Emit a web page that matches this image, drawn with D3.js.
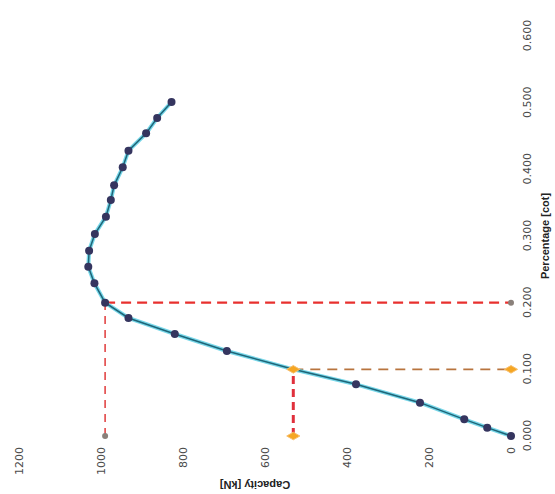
<!DOCTYPE html>
<html>
<head>
<meta charset="utf-8">
<script src="https://cdn.jsdelivr.net/npm/d3@7"></script>
<style>
  html, body { margin: 0; padding: 0; background: #ffffff; }
  svg { display: block; }
</style>
</head>
<body>
<svg id="chart" width="555" height="494"></svg>
<script>
// ---- data ----
const xValues = [0, 0.0125, 0.025, 0.05, 0.0775, 0.1, 0.1275, 0.153, 0.177, 0.2, 0.229, 0.254, 0.278, 0.303, 0.329, 0.354, 0.376, 0.403, 0.428, 0.454, 0.477, 0.501];
const yValues = [0, 58, 114, 222, 378, 531, 693, 820, 933, 990, 1016, 1031, 1029, 1015, 988, 976, 968, 947, 933, 890, 863, 828];
const xTicks = [0, 0.1, 0.2, 0.3, 0.4, 0.5, 0.6];
const yTicks = [0, 200, 400, 600, 800, 1000, 1200];
const peakX = 0.2, peakY = 990;     // red reference point
const markX = 0.1, markY = 531;     // orange reference point
const xTitle = "Percentage [cot]";
const yTitle = "Capacity [kN]";

// ---- layout (chart drawn upright, then turned a quarter turn) ----
const W = 494, H = 555;
const svg = d3.select("#chart");
const g = svg.append("g").attr("transform", `translate(0,${494}) rotate(-90)`);

const x = d3.scaleLinear().domain([0, 0.6]).range([58, 458]);
const y = d3.scaleLinear().domain([0, 1200]).range([511, 19]);

// axes
const xAxis = g.append("g").attr("transform", `translate(0,${y(0)})`)
  .call(d3.axisBottom(x).tickValues(xTicks).tickFormat(d3.format(".3f")).tickSize(0).tickPadding(12));
const yAxis = g.append("g").attr("transform", `translate(${x(0)},0)`)
  .call(d3.axisLeft(y).tickValues(yTicks).tickFormat(d3.format("d")).tickSize(0).tickPadding(11));
[xAxis, yAxis].forEach(a => {
  a.select(".domain").remove();
  a.selectAll("text").attr("font-family", "DejaVu Sans, sans-serif").attr("font-size", 11).attr("fill", "#4a4a4a");
});

// titles
g.append("text")
  .attr("x", (x(0) + x(0.6)) / 2).attr("y", 549)
  .attr("text-anchor", "middle")
  .attr("font-family", "Liberation Sans, Arial, sans-serif").attr("font-size", 11).attr("font-weight", "bold")
  .attr("fill", "#222").text(xTitle);
g.append("text")
  .attr("transform", `translate(13,255) rotate(-90)`)
  .attr("text-anchor", "middle")
  .attr("font-family", "Liberation Sans, Arial, sans-serif").attr("font-size", 11).attr("font-weight", "bold")
  .attr("fill", "#222").text(yTitle);

// reference lines
g.append("line").attr("x1", x(peakX)).attr("x2", x(peakX)).attr("y1", y(peakY)).attr("y2", y(0))
  .attr("stroke", "#e8302e").attr("stroke-width", 2.2).attr("stroke-dasharray", "10,6");
g.append("line").attr("x1", x(0)).attr("x2", x(peakX)).attr("y1", y(peakY)).attr("y2", y(peakY))
  .attr("stroke", "#e03a3a").attr("stroke-width", 1.5).attr("stroke-dasharray", "8,6");
g.append("line").attr("x1", x(markX)).attr("x2", x(markX)).attr("y1", y(markY)).attr("y2", y(0))
  .attr("stroke", "#b8743e").attr("stroke-width", 1.6).attr("stroke-dasharray", "10,7");
g.append("line").attr("x1", x(0)).attr("x2", x(markX)).attr("y1", y(markY)).attr("y2", y(markY))
  .attr("stroke", "#e0303c").attr("stroke-width", 3).attr("stroke-dasharray", "8,5");

// series
const pts = xValues.map((v, i) => [v, yValues[i]]);
const line = d3.line().x(d => x(d[0])).y(d => y(d[1]));
g.append("path").datum(pts).attr("d", line)
  .attr("fill", "none").attr("stroke", "#55cde3").attr("stroke-width", 4).attr("stroke-opacity", 0.8);
g.append("path").datum(pts).attr("d", line)
  .attr("fill", "none").attr("stroke", "#1f6578").attr("stroke-width", 1.5);
g.selectAll("circle.pt").data(pts.filter(d => d[0] !== markX)).enter().append("circle")
  .attr("class", "pt").attr("cx", d => x(d[0])).attr("cy", d => y(d[1])).attr("r", 4)
  .attr("fill", "#35355f");

// end markers
[[peakX, 0], [0, peakY]].forEach(p => {
  g.append("circle").attr("cx", x(p[0])).attr("cy", y(p[1])).attr("r", 3).attr("fill", "#8a807a");
});
const diamond = d3.symbol().type(d3.symbolDiamond).size(50);
[[markX, markY], [markX, 0], [0, markY]].forEach(p => {
  g.append("path").attr("d", diamond).attr("transform", `translate(${x(p[0])},${y(p[1])})`)
    .attr("fill", "#f5a623").attr("stroke", "#f8c070").attr("stroke-width", 1);
});
</script>
</body>
</html>
